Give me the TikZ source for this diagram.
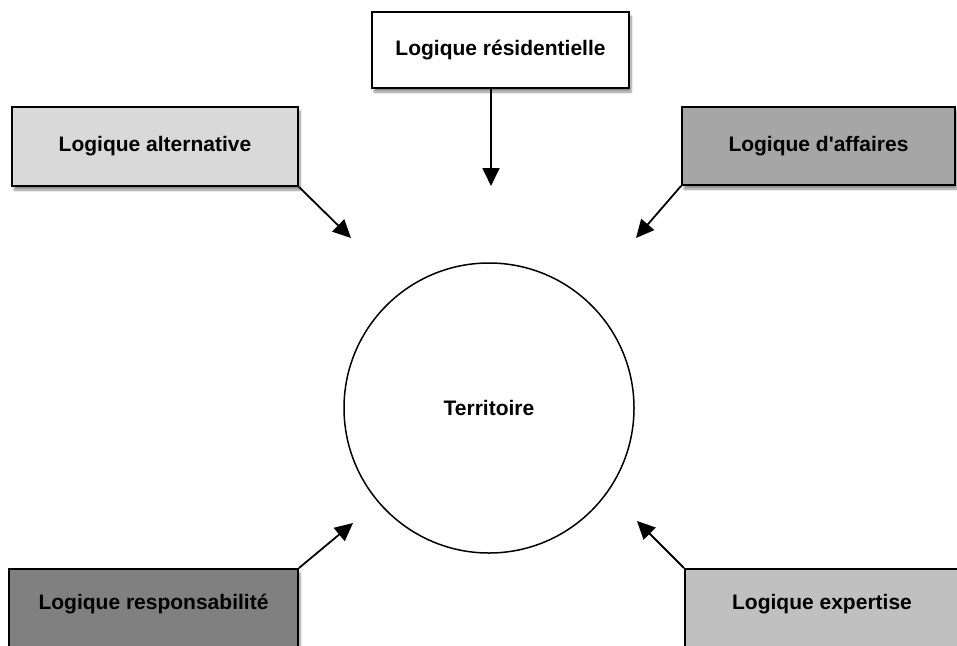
\documentclass[tikz,border=0pt]{standalone}
\usepackage{fontspec}
\setmainfont{Liberation Sans}
\usetikzlibrary{arrows.meta,shadows.blur}
\definecolor{boxlight}{HTML}{D9D9D9}
\definecolor{boxmid}{HTML}{A6A6A6}
\definecolor{boxdark}{HTML}{808080}
\definecolor{boxsoft}{HTML}{C0C0C0}
\begin{document}
\begin{tikzpicture}[x=1pt,y=-1pt,
  logicbox/.style={draw=black, line width=1.8pt, rectangle, inner sep=0pt,
    font=\fontsize{21}{24}\selectfont\bfseries,
    blur shadow={shadow xshift=2pt, shadow yshift=-4pt, shadow blur steps=8, shadow opacity=45}},
  flow/.style={line width=1.8pt, -{Triangle[length=18pt,width=17pt]}}]
  \useasboundingbox (0,0) rectangle (957,645);

  % centre of the diagram
  \node[circle, draw=black, line width=1.5pt, fill=white, minimum size=290pt, inner sep=0pt,
        font=\fontsize{21}{24}\selectfont\bfseries] (terr) at (489,408) {Territoire};

  % the five logics around it
  \node[logicbox, fill=white, minimum width=257pt, minimum height=76pt] (res) at (500.5,50) {Logique résidentielle};
  \node[logicbox, fill=boxlight, minimum width=286pt, minimum height=79pt] (alt) at (155,146.5) {Logique alternative};
  \node[logicbox, fill=boxmid, minimum width=273pt, minimum height=78pt] (aff) at (818.5,146) {Logique d\textquotesingle affaires};
  \node[logicbox, fill=boxdark, minimum width=289pt, minimum height=80pt, text depth=14pt] (resp) at (153.5,609) {Logique responsabilité};
  \node[logicbox, fill=boxsoft, minimum width=274pt, minimum height=80pt, text depth=14pt] (exp) at (822,609) {Logique expertise};

  % arrow tips pointing at the territory
  \coordinate (tres) at (491,186);
  \coordinate (talt) at (351,238);
  \coordinate (taff) at (636,238);
  \coordinate (tresp) at (353,523);
  \coordinate (texp) at (637,521);
  \coordinate (sres) at (491,88);

  \draw[flow] (sres) -- (tres);
  \draw[flow] (alt.south east) -- (talt);
  \draw[flow] (aff.south west) -- (taff);
  \draw[flow] (resp.north east) -- (tresp);
  \draw[flow] (exp.north west) -- (texp);
\end{tikzpicture}
\end{document}
